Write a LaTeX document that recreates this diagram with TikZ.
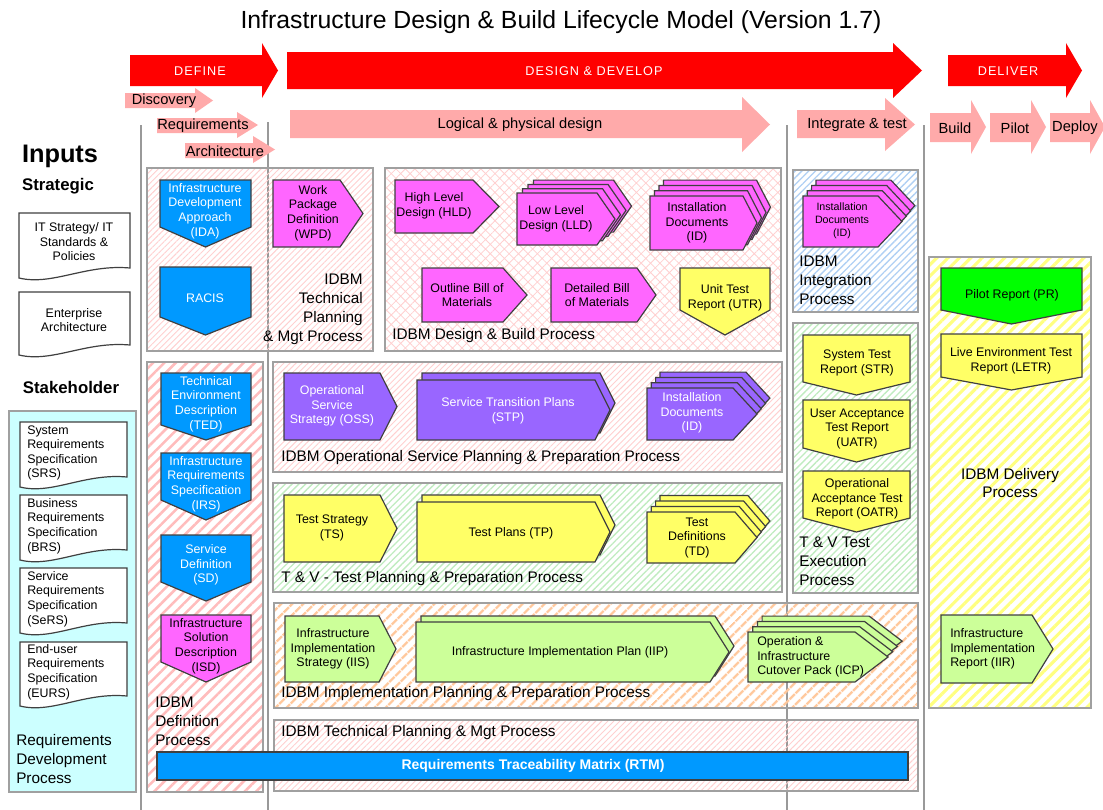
\documentclass[tikz,border=0pt]{standalone}
\usepackage{fontspec}
\setmainfont{Liberation Sans}
\newfontfamily\spacedfont[LetterSpace=8]{Liberation Sans}
\usetikzlibrary{patterns.meta}
\definecolor{cRed}{HTML}{FF0000}
\definecolor{cPinkArr}{HTML}{FFAAAA}
\definecolor{cBlue}{HTML}{0099FF}
\definecolor{cMag}{HTML}{FF66FF}
\definecolor{cPurp}{HTML}{9966FF}
\definecolor{cYel}{HTML}{FFFF66}
\definecolor{cLGreen}{HTML}{CCFF99}
\definecolor{cGreen}{HTML}{00FF00}
\definecolor{cCyan}{HTML}{CCFFFF}
\definecolor{hPink}{HTML}{FFBCBC}
\definecolor{hPinkFine}{HTML}{FFD0D0}
\definecolor{hBlue}{HTML}{B0D0F4}
\definecolor{hGreen}{HTML}{C0ECC0}
\definecolor{hYel}{HTML}{FFFF80}
\definecolor{hOrange}{HTML}{FFC89C}
\definecolor{cBorder}{HTML}{A0A0A0}
\definecolor{cLine}{HTML}{999999}
\newcommand\ShpR[6]{\filldraw[shp,fill=#1] (#2,#3) -- (#5,#3) -- (#6,{(#3+#4)/2}) -- (#5,#4) -- (#2,#4) -- cycle;}
\newcommand\ShpD[6]{\filldraw[shp,fill=#1] (#2,#4) -- (#3,#4) -- (#3,#5) -- ({(#2+#3)/2},#6) -- (#2,#5) -- cycle;}
\newcommand\ShpDoc[4]{\filldraw[shp,fill=white] (#1,#3) -- (#2,#3) -- (#2,{#4-12}) .. controls ({#2-0.4*(#2-#1)},{#4-16}) and ({#1+0.3*(#2-#1)},{#4+6}) .. (#1,{#4-2}) -- cycle;}
\newcommand\ShpStack[9]{\foreach \k in {#7,...,1}{\begin{scope}[shift={(\k*#8,\k*(#9))}]\ShpR{#1}{#2}{#3}{#4}{#5}{#6}\end{scope}}\ShpR{#1}{#2}{#3}{#4}{#5}{#6}}
\newcommand\ArrP[8]{\fill[#1] (#2,#3) -- (#5,#3) -- (#5,#6) -- (#8,{(#6+#7)/2}) -- (#5,#7) -- (#5,#4) -- (#2,#4) -- cycle;}
\begin{document}
\begin{tikzpicture}[x=0.75pt,y=-0.75pt,
  shp/.style={draw=black!75,line width=0.9pt,line join=miter},
  box/.style={draw=cBorder,line width=0.8pt},
  vline/.style={draw=cLine,line width=0.8pt},
  st/.style={font=\fontsize{9.3}{10.9}\selectfont,align=center,inner sep=0pt},
  stw/.style={st,text=white},
  sts/.style={font=\fontsize{8}{9.8}\selectfont,align=center,inner sep=0pt},
  lb/.style={font=\fontsize{11.5}{13.9}\selectfont,align=left,inner sep=0pt,anchor=west},
  arl/.style={font=\fontsize{11}{13}\selectfont,inner sep=0pt},
  bigw/.style={font=\spacedfont\fontsize{9.5}{11}\selectfont,text=white,inner sep=0pt},
  ttl/.style={font=\fontsize{18.6}{21}\selectfont,inner sep=0pt},
  hd/.style={font=\bfseries\fontsize{12.6}{15}\selectfont,inner sep=0pt}]
\useasboundingbox (0,0) rectangle (1103,810);
\fill[white] (0,0) rectangle (1103,810);

% vertical separators
\draw[vline] (141,125) -- (141,810);
\draw[vline] (268,122) -- (268,810);
\draw[vline] (787,125) -- (787,810);
\draw[vline] (924,125) -- (924,810);

% process boxes
\draw[box,fill=cCyan] (9,411) rectangle (136,792);
\draw[box,pattern={Lines[angle=45,distance=6pt,line width=1.9pt]},pattern color=hPink] (147,362) rectangle (263,792);
\draw[box,pattern={Lines[angle=45,distance=3.2pt,line width=0.7pt]},pattern color=hPinkFine] (147,168) rectangle (373,351);
\draw[box,pattern={Hatch[angle=45,distance=5pt,line width=0.6pt]},pattern color=hPinkFine] (385,168) rectangle (781,351);
\draw[box,pattern={Lines[angle=45,distance=3.6pt,line width=1pt]},pattern color=hBlue] (793,170) rectangle (918,312);
\draw[box,pattern={Lines[angle=45,distance=3.6pt,line width=1pt]},pattern color=hGreen] (793,323) rectangle (918,593);
\draw[box,pattern={Lines[angle=45,distance=6pt,line width=2.3pt]},pattern color=hYel] (929,257) rectangle (1091,708);
\draw[box,pattern={Lines[angle=45,distance=3.2pt,line width=0.7pt]},pattern color=hPinkFine] (273,362) rectangle (782,472);
\draw[box,pattern={Lines[angle=45,distance=3.6pt,line width=1pt]},pattern color=hGreen] (273,483) rectangle (782,592);
\draw[box,pattern={Lines[angle=45,distance=6.5pt,line width=2.2pt]},pattern color=hOrange] (274,603) rectangle (918,708);
\draw[box,pattern={Lines[angle=45,distance=3.2pt,line width=0.7pt]},pattern color=hPinkFine] (274,720) rectangle (918,791);

% phase arrows
\ArrP{cRed}{130}{55}{86}{262}{43}{98}{278}
\ArrP{cRed}{287}{52}{89}{893}{43}{98}{922}
\ArrP{cRed}{948}{55}{86}{1066}{43}{98}{1082}
\ArrP{cPinkArr}{125}{93}{108}{195}{88}{113}{213}
\ArrP{cPinkArr}{157}{118}{133}{237}{112}{138}{258}
\ArrP{cPinkArr}{185}{143}{158}{253}{136}{163}{275}
\ArrP{cPinkArr}{290}{110}{138}{742}{97}{152}{770}
\ArrP{cPinkArr}{797}{110}{138}{885}{98}{151}{915}
\ArrP{cPinkArr}{930}{113}{142}{971}{100}{154}{986}
\ArrP{cPinkArr}{990}{113}{142}{1031}{100}{154}{1046}
\ArrP{cPinkArr}{1050}{113}{142}{1090}{100}{154}{1105}

% input documents
\ShpDoc{19}{130}{213}{280}
\ShpDoc{19}{130}{292}{357}
\ShpDoc{20}{127}{422}{489}
\ShpDoc{20}{127}{495}{562}
\ShpDoc{20}{127}{568}{635}
\ShpDoc{20}{127}{642}{708}

% technical planning box shapes
\ShpD{cBlue}{160}{251}{180}{227}{247}
\ShpD{cBlue}{160}{251}{267}{317}{335}
\ShpR{cMag}{273}{180}{247}{340}{363}

% design & build shapes
\ShpR{cMag}{395}{180}{233}{473}{499}
\ShpStack{cMag}{517}{193}{245}{597}{615}{3}{5.5}{-4.3}
\ShpStack{cMag}{650}{196}{250}{743}{757}{3}{4.5}{-5.3}
\ShpR{cMag}{422}{268}{322}{503}{527}
\ShpR{cMag}{551}{268}{322}{637}{656}
\ShpD{cYel}{680}{770}{268}{310}{335}

% integration
\ShpStack{cMag}{803}{196}{247}{878}{902}{3}{4.3}{-5.3}

% test execution
\ShpD{cYel}{803}{910}{335}{382}{395}
\ShpD{cYel}{803}{910}{400}{448}{462}
\ShpD{cYel}{803}{910}{471}{518}{532}

% delivery
\ShpD{cGreen}{941}{1082}{268}{310}{324}
\ShpD{cYel}{941}{1082}{334}{377}{390}
\ShpR{cLGreen}{941}{615}{683}{1032}{1053}

% definition
\ShpD{cBlue}{161}{251}{373}{425}{440}
\ShpD{cBlue}{161}{251}{453}{500}{520}
\ShpD{cBlue}{161}{251}{535}{582}{601}
\ShpD{cMag}{161}{251}{615}{662}{682}

% operational service
\ShpR{cPurp}{284}{373}{440}{380}{397}
\ShpStack{cPurp}{417}{380}{440}{595}{610}{1}{5}{-7}
\ShpStack{cPurp}{647}{388}{440}{733}{757}{3}{4.3}{-5.3}

% test planning
\ShpR{cYel}{284}{495}{562}{380}{397}
\ShpStack{cYel}{417}{502}{562}{595}{610}{1}{5}{-7}
\ShpStack{cYel}{647}{512}{563}{735}{757}{3}{4.3}{-5.5}

% implementation
\ShpR{cLGreen}{285}{616}{682}{379}{396}
\ShpStack{cLGreen}{416}{622}{682}{710}{729}{1}{5}{-6}
\ShpStack{cLGreen}{748}{632}{682}{855}{888}{3}{4.7}{-5.3}

% RTM bar
\filldraw[shp,fill=cBlue] (157,752) rectangle (908,780);

% ---- texts ----
\node[ttl] (title) at (561,22) {Infrastructure Design \& Build Lifecycle Model (Version 1.7)};
\node[bigw] (tdefine) at (200,71) {DEFINE};
\node[bigw] (tdesign) at (594,71) {DESIGN \& DEVELOP};
\node[bigw] (tdeliver) at (1008,71) {DELIVER};
\node[arl] (tdisc) at (164,101) {Discovery};
\node[arl] (treq) at (203,126) {Requirements};
\node[arl] (tarch) at (225,151) {Architecture};
\node[arl] (tlog) at (520,125) {Logical \& physical design};
\node[arl] (tint) at (857,125) {Integrate \& test};
\node[arl] (tbuild) at (955,128) {Build};
\node[arl] (tpilot) at (1015,128) {Pilot};
\node[arl] (tdeploy) at (1075,128) {Deploy};

\node[font=\bfseries\fontsize{19}{22}\selectfont,inner sep=0pt] (inputs) at (60,156) {Inputs};
\node[hd] (strat) at (58,186) {Strategic};
\node[hd] (stake) at (71,387) {Stakeholder};
\node[st] (its) at (74,242) {IT Strategy/ IT\\Standards \&\\Policies};
\node[st] (ea) at (74,320) {Enterprise\\Architecture};
\node[st,align=left,anchor=west] (srs) at (27,453) {System\\Requirements\\Specification\\(SRS)};
\node[st,align=left,anchor=west] (brs) at (27,526) {Business\\Requirements\\Specification\\(BRS)};
\node[st,align=left,anchor=west] (sers) at (27,599) {Service\\Requirements\\Specification\\(SeRS)};
\node[st,align=left,anchor=west] (eurs) at (27,672) {End-user\\Requirements\\Specification\\(EURS)};
\node[lb,font=\fontsize{11.5}{14.2}\selectfont] (rdp) at (16,759) {Requirements\\Development\\Process};

\node[stw] (ida) at (205,211) {Infrastructure\\Development\\Approach\\(IDA)};
\node[stw] (racis) at (205,298) {RACIS};
\node[st] (wpd) at (313,213) {Work\\Package\\Definition\\(WPD)};
\node[lb,align=right,anchor=east,font=\fontsize{11.5}{14.2}\selectfont] (ltp) at (363,309) {IDBM\\Technical\\Planning\\\& Mgt Process};

\node[st] (hld) at (434,206) {High Level\\Design (HLD)};
\node[st] (lld) at (556,219) {Low Level\\Design (LLD)};
\node[st] (id1) at (697,223) {Installation\\Documents\\(ID)};
\node[st] (obom) at (467,295) {Outline Bill of\\Materials};
\node[st] (dbom) at (597,295) {Detailed Bill\\of Materials};
\node[st] (utr) at (725,298) {Unit Test\\Report (UTR)};
\node[lb] (ldb) at (392,336) {IDBM Design \& Build Process};

\node[sts] (id2) at (842,221) {Installation\\Documents\\(ID)};
\node[lb,font=\fontsize{11.5}{14.2}\selectfont] (lint) at (799,280) {IDBM\\Integration\\Process};

\node[st] (str) at (857,363) {System Test\\Report (STR)};
\node[st] (uatr) at (857,429) {User Acceptance\\Test Report\\(UATR)};
\node[st] (oatr) at (857,499) {Operational\\Acceptance Test\\Report (OATR)};
\node[lb,font=\fontsize{11.5}{14.2}\selectfont] (ltve) at (799,561) {T \& V Test\\Execution\\Process};

\node[st] (pr) at (1012,295) {Pilot Report (PR)};
\node[st] (letr) at (1011,361) {Live Environment Test\\Report (LETR)};
\node[lb,align=center,anchor=center] (ldel) at (1010,483) {IDBM Delivery\\Process};
\node[st,align=left,anchor=west] (iir) at (950,649) {Infrastructure\\Implementation\\Report (IIR)};

\node[stw] (ted) at (206,404) {Technical\\Environment\\Description\\(TED)};
\node[stw] (irs) at (206,484) {Infrastructure\\Requirements\\Specification\\(IRS)};
\node[stw] (sd) at (206,565) {Service\\Definition\\(SD)};
\node[st] (isd) at (206,646) {Infrastructure\\Solution\\Description\\(ISD)};
\node[lb,font=\fontsize{11.5}{14.2}\selectfont] (ldef) at (155,721) {IDBM\\Definition\\Process};

\node[stw] (oss) at (332,406) {Operational\\Service\\Strategy (OSS)};
\node[stw] (stp) at (508,411) {Service Transition Plans\\(STP)};
\node[stw] (id3) at (692,413) {Installation\\Documents\\(ID)};
\node[lb] (lops) at (281,458) {IDBM Operational Service Planning \& Preparation Process};

\node[st] (ts) at (332,528) {Test Strategy\\(TS)};
\node[st] (tp) at (511,533) {Test Plans (TP)};
\node[st] (td) at (697,538) {Test\\Definitions\\(TD)};
\node[lb] (ltvp) at (281,579) {T \& V - Test Planning \& Preparation Process};

\node[st] (iis) at (333,649) {Infrastructure\\Implementation\\Strategy (IIS)};
\node[st] (iip) at (560,652) {Infrastructure Implementation Plan (IIP)};
\node[st,align=left,anchor=west] (icp) at (757,657) {Operation \&\\Infrastructure\\Cutover Pack (ICP)};
\node[lb] (limp) at (281,694) {IDBM Implementation Planning \& Preparation Process};

\node[lb] (ltpm) at (281,733) {IDBM Technical Planning \& Mgt Process};
\node[font=\bfseries\fontsize{10.5}{12}\selectfont,text=white,inner sep=0pt] (rtm) at (533,766) {Requirements Traceability Matrix (RTM)};
\end{tikzpicture}
\end{document}
